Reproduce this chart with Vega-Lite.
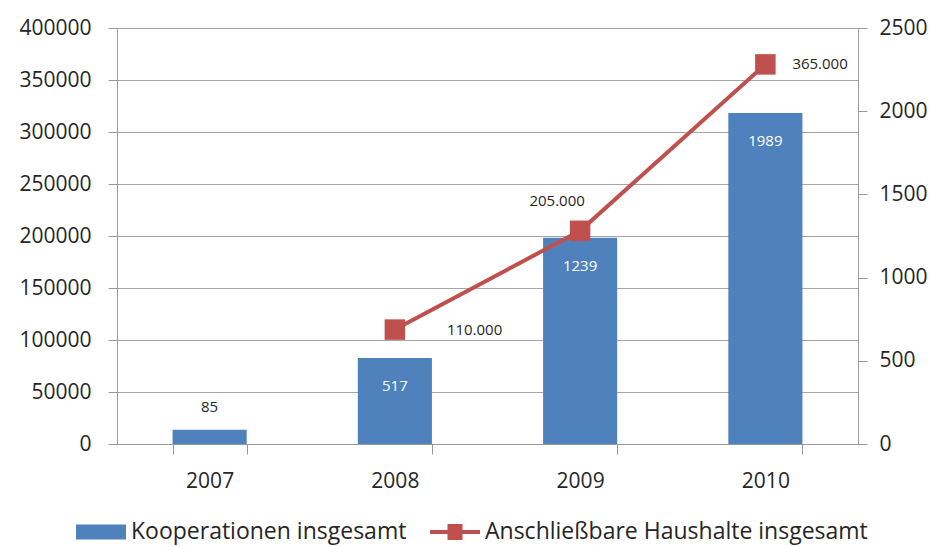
{
  "$schema": "https://vega.github.io/schema/vega-lite/v6.json",
  "width": 741,
  "height": 416,
  "autosize": {"type": "none"},
  "padding": {"left": 117, "top": 28, "right": 81, "bottom": 103},
  "background": "white",
  "data": {
    "values": [
      {"year": "2007", "koop": 85, "haushalte": null},
      {"year": "2008", "koop": 517, "haushalte": 110000},
      {"year": "2009", "koop": 1239, "haushalte": 205000},
      {"year": "2010", "koop": 1989, "haushalte": 365000}
    ]
  },
  "encoding": {
    "x": {
      "field": "year",
      "type": "nominal",
      "title": null,
      "scale": {"paddingInner": 0.6, "paddingOuter": 0.3},
      "axis": {
        "labelAngle": 0,
        "labelFont": "Open Sans",
        "labelFontSize": 21,
        "labelColor": "#262626",
        "labelPadding": 16,
        "tickBand": "extent",
        "tickSize": 10,
        "tickColor": "#999999",
        "domainColor": "#999999",
        "grid": false
      }
    }
  },
  "layer": [
    {
      "mark": {"type": "bar", "color": "#4F81BD"},
      "encoding": {
        "y": {
          "field": "koop",
          "type": "quantitative",
          "title": null,
          "scale": {"domain": [0, 2500]},
          "axis": {
            "orient": "right",
            "values": [0, 500, 1000, 1500, 2000, 2500],
            "grid": false,
            "format": "d",
            "labelFont": "Open Sans",
            "labelFontSize": 21,
            "labelColor": "#262626",
            "labelPadding": 12,
            "tickSize": 9,
            "tickColor": "#999999",
            "domainColor": "#999999"
          }
        },
        "color": {
          "datum": "Kooperationen insgesamt",
          "scale": {
            "domain": ["Kooperationen insgesamt", "Anschließbare Haushalte insgesamt"],
            "range": ["#4F81BD", "#C0504D"]
          },
          "legend": {
            "orient": "none",
            "legendX": -41,
            "legendY": 479,
            "direction": "horizontal",
            "title": null,
            "symbolSize": 2500,
            "labelFont": "Open Sans",
            "labelFontSize": 23,
            "labelColor": "#262626",
            "labelOffset": 5,
            "columnPadding": 23,
            "labelLimit": 500,
            "encode": {
              "symbols": {
                "update": {
                  "shape": {"signal": "datum.value == 'Kooperationen insgesamt' ? 'M-1,-0.3H1V0.3H-1Z' : 'M-1,-0.08H-0.3V-0.32H0.3V-0.08H1V0.08H0.3V0.32H-0.3V0.08H-1Z'"},
                  "fill": {"signal": "datum.value == 'Kooperationen insgesamt' ? '#4F81BD' : '#C0504D'"},
                  "strokeWidth": {"value": 0},
                  "opacity": {"value": 1},
                  "fillOpacity": {"value": 1}
                }
              }
            }
          }
        }
      }
    },
    {
      "transform": [{"filter": "datum.year != '2007'"}],
      "mark": {"type": "text", "color": "white", "font": "Open Sans", "fontSize": 15, "baseline": "middle", "dy": 28},
      "encoding": {
        "y": {"field": "koop", "type": "quantitative", "scale": {"domain": [0, 2500]}, "axis": null},
        "text": {"field": "koop", "type": "quantitative", "format": "d"}
      }
    },
    {
      "transform": [{"filter": "datum.year == '2007'"}],
      "mark": {"type": "text", "color": "#262626", "font": "Open Sans", "fontSize": 15, "baseline": "middle", "dy": -23},
      "encoding": {
        "y": {"field": "koop", "type": "quantitative", "scale": {"domain": [0, 2500]}, "axis": null},
        "text": {"field": "koop", "type": "quantitative", "format": "d"}
      }
    },
    {
      "transform": [{"filter": "datum.haushalte != null"}],
      "layer": [
        {
          "mark": {"type": "line", "strokeWidth": 4},
          "encoding": {
            "y": {
              "field": "haushalte",
              "type": "quantitative",
              "title": null,
              "scale": {"domain": [0, 400000]},
              "axis": {
                "orient": "left",
                "values": [0, 50000, 100000, 150000, 200000, 250000, 300000, 350000, 400000],
                "format": "d",
                "grid": true,
                "gridColor": "#A6A6A6",
                "gridWidth": 1,
                "labelFont": "Open Sans",
                "labelFontSize": 21,
                "labelColor": "#262626",
                "labelPadding": 17,
                "tickSize": 9,
                "tickColor": "#999999",
                "domainColor": "#999999"
              }
            },
            "color": {"datum": "Anschließbare Haushalte insgesamt"}
          }
        },
        {
          "mark": {"type": "point", "shape": "square", "filled": true, "size": 420, "opacity": 1},
          "encoding": {
            "y": {"field": "haushalte", "type": "quantitative"},
            "color": {"datum": "Anschließbare Haushalte insgesamt"}
          }
        },
        {
          "transform": [{"filter": "datum.year == '2008'"}],
          "mark": {"type": "text", "color": "#262626", "font": "Open Sans", "fontSize": 15, "baseline": "middle", "align": "left", "dx": 52},
          "encoding": {
            "y": {"field": "haushalte", "type": "quantitative"},
            "text": {"field": "haushalte", "type": "quantitative", "format": ",d"}
          }
        },
        {
          "transform": [{"filter": "datum.year == '2009'"}],
          "mark": {"type": "text", "color": "#262626", "font": "Open Sans", "fontSize": 15, "baseline": "middle", "align": "center", "dx": -23, "dy": -30},
          "encoding": {
            "y": {"field": "haushalte", "type": "quantitative"},
            "text": {"field": "haushalte", "type": "quantitative", "format": ",d"}
          }
        },
        {
          "transform": [{"filter": "datum.year == '2010'"}],
          "mark": {"type": "text", "color": "#262626", "font": "Open Sans", "fontSize": 15, "baseline": "middle", "align": "left", "dx": 27},
          "encoding": {
            "y": {"field": "haushalte", "type": "quantitative"},
            "text": {"field": "haushalte", "type": "quantitative", "format": ",d"}
          }
        }
      ]
    }
  ],
  "resolve": {"scale": {"y": "independent"}},
  "config": {
    "view": {"stroke": null},
    "locale": {"number": {"decimal": ",", "thousands": ".", "grouping": [3], "currency": ["", " €"]}}
  }
}
